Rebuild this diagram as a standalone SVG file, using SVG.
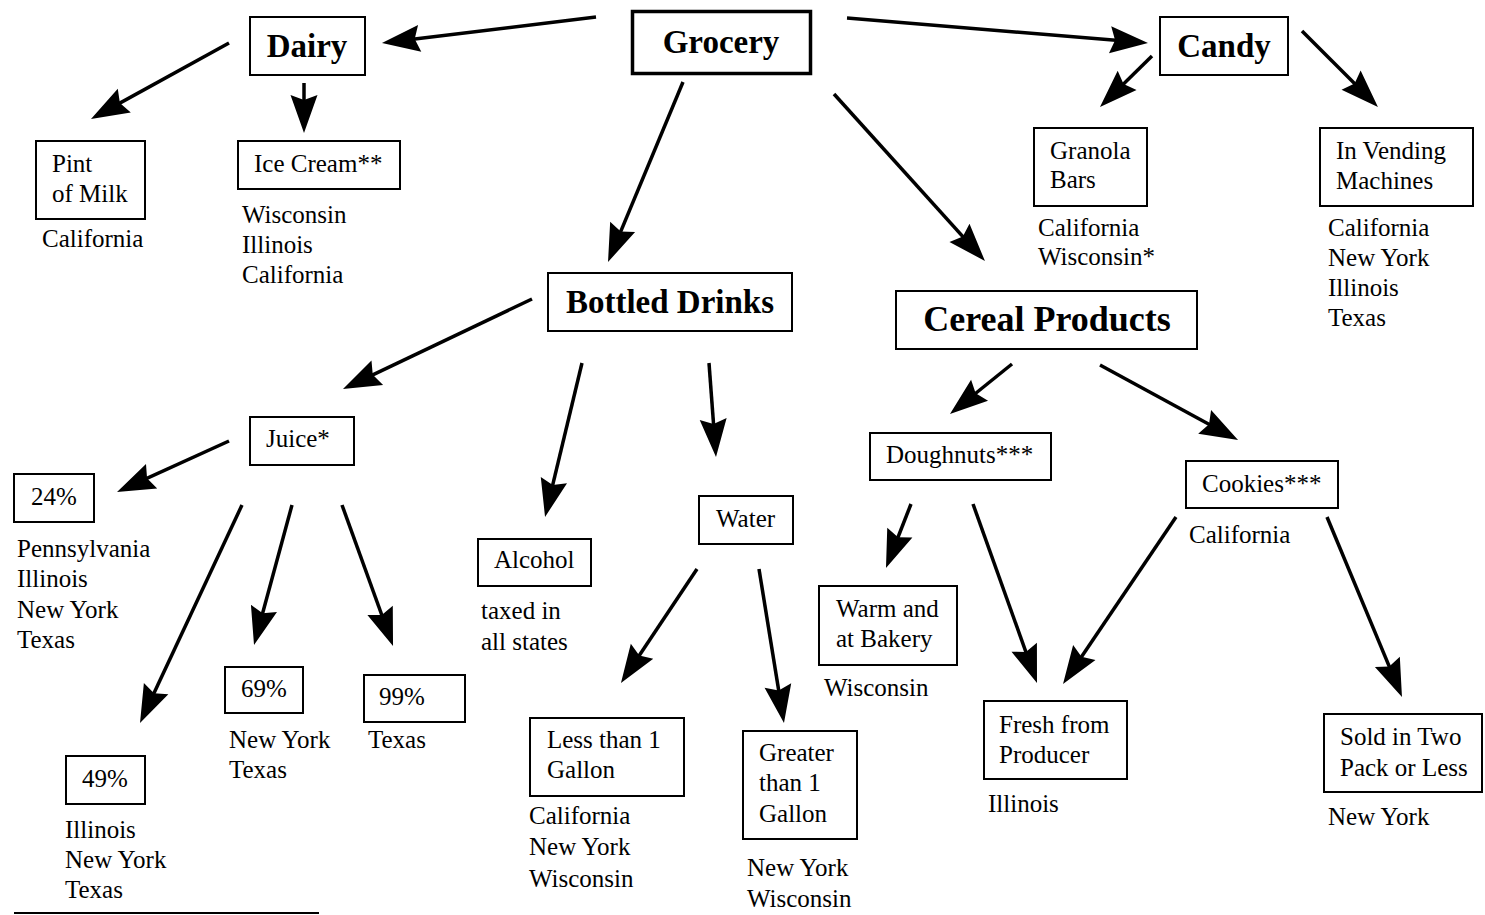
<svg xmlns="http://www.w3.org/2000/svg" width="1485" height="915" viewBox="0 0 1485 915">
<style>
  text { font-family: "Liberation Serif", "Times New Roman", serif; fill: #000; }
  .t { font-size: 25px; }
  .h { font-size: 33px; font-weight: bold; text-anchor: middle; }
  .b { fill: #fff; stroke: #000; stroke-width: 2; }
  .bb { fill: #fff; stroke: #000; stroke-width: 3.5; }
  .c line { stroke: #000; stroke-width: 3.5; marker-end: url(#ah); }
</style>
<defs>
  <marker id="ah" markerUnits="userSpaceOnUse" viewBox="-32 -15 42 30" markerWidth="42" markerHeight="30" refX="0" refY="0" orient="auto">
    <path d="M8,0 L-30,-13.5 L-25,0 L-30,13.5 Z" fill="#000"/>
  </marker>
</defs>
<rect width="1485" height="915" fill="#fff"/>

<g id="connectors" class="c">
  <line x1="596" y1="17" x2="389.9" y2="42"/>
  <line x1="847" y1="18" x2="1140" y2="42.3"/>
  <line x1="683" y1="82" x2="611.1" y2="254.6"/>
  <line x1="834" y1="94" x2="979.6" y2="255.1"/>
  <line x1="229" y1="43" x2="98" y2="115.1"/>
  <line x1="304" y1="83" x2="304" y2="125"/>
  <line x1="1152" y1="56" x2="1105.7" y2="101.4"/>
  <line x1="1302" y1="31" x2="1372.3" y2="101.3"/>
  <line x1="532" y1="299" x2="350.2" y2="385.6"/>
  <line x1="582" y1="363" x2="546.9" y2="509.2"/>
  <line x1="709" y1="363" x2="715.4" y2="449"/>
  <line x1="229" y1="441" x2="124.3" y2="488.7"/>
  <line x1="242" y1="505" x2="143.4" y2="715.8"/>
  <line x1="292" y1="505" x2="256.1" y2="637.3"/>
  <line x1="342" y1="505" x2="390.3" y2="638.5"/>
  <line x1="697" y1="569" x2="625.4" y2="676.3"/>
  <line x1="759" y1="569" x2="782.7" y2="715.1"/>
  <line x1="1012" y1="364" x2="956.2" y2="409"/>
  <line x1="1100" y1="365" x2="1231" y2="436.2"/>
  <line x1="911" y1="504" x2="888.9" y2="560.5"/>
  <line x1="973" y1="504" x2="1034.3" y2="675.5"/>
  <line x1="1176" y1="517" x2="1067.5" y2="677.4"/>
  <line x1="1327" y1="517" x2="1398.9" y2="689.6"/>
</g>

<g id="grocery"><rect class="bb" x="632.5" y="11.5" width="178" height="62"/><text class="h" x="721" y="53">Grocery</text></g>
<g id="dairy"><rect class="b" x="250" y="17" width="115" height="58"/><text class="h" x="307" y="57">Dairy</text></g>
<g id="candy"><rect class="b" x="1160" y="17" width="128" height="58"/><text class="h" x="1224" y="57">Candy</text></g>

<g id="pint"><rect class="b" x="36" y="141" width="109" height="78"/>
  <text class="t" x="52" y="172">Pint</text><text class="t" x="52" y="202">of Milk</text>
  <text class="t" x="42" y="247">California</text></g>
<g id="icecream"><rect class="b" x="238" y="141" width="162" height="48"/>
  <text class="t" x="254" y="172">Ice Cream**</text>
  <text class="t" x="242" y="223">Wisconsin</text><text class="t" x="242" y="253">Illinois</text><text class="t" x="242" y="283">California</text></g>

<g id="granola"><rect class="b" x="1034" y="128" width="113" height="78"/>
  <text class="t" x="1050" y="159">Granola</text><text class="t" x="1050" y="188">Bars</text>
  <text class="t" x="1038" y="236">California</text><text class="t" x="1038" y="265">Wisconsin*</text></g>
<g id="vending"><rect class="b" x="1320" y="128" width="153" height="78"/>
  <text class="t" x="1336" y="159">In Vending</text><text class="t" x="1336" y="189">Machines</text>
  <text class="t" x="1328" y="236">California</text><text class="t" x="1328" y="266">New York</text><text class="t" x="1328" y="296">Illinois</text><text class="t" x="1328" y="326">Texas</text></g>

<g id="bottled"><rect class="b" x="548" y="273" width="244" height="58"/><text class="h" x="670" y="313">Bottled Drinks</text></g>
<g id="cereal"><rect class="b" x="896" y="291" width="301" height="58"/><text class="h" x="1047" y="331" style="font-size:36px">Cereal Products</text></g>

<g id="juice"><rect class="b" x="250" y="417" width="104" height="48"/><text class="t" x="266" y="447">Juice*</text></g>
<g id="p24"><rect class="b" x="14" y="474" width="80" height="48"/><text class="t" x="31" y="505">24%</text>
  <text class="t" x="17" y="557">Pennsylvania</text><text class="t" x="17" y="587">Illinois</text><text class="t" x="17" y="618">New York</text><text class="t" x="17" y="648">Texas</text></g>
<g id="p49"><rect class="b" x="66" y="756" width="79" height="48"/><text class="t" x="82" y="787">49%</text>
  <text class="t" x="65" y="838">Illinois</text><text class="t" x="65" y="868">New York</text><text class="t" x="65" y="898">Texas</text></g>
<g id="p69"><rect class="b" x="225" y="667" width="78" height="46"/><text class="t" x="241" y="697">69%</text>
  <text class="t" x="229" y="748">New York</text><text class="t" x="229" y="778">Texas</text></g>
<g id="p99"><rect class="b" x="364" y="675" width="101" height="47"/><text class="t" x="379" y="705">99%</text>
  <text class="t" x="368" y="748">Texas</text></g>

<g id="alcohol"><rect class="b" x="478" y="539" width="113" height="47"/><text class="t" x="494" y="568">Alcohol</text>
  <text class="t" x="481" y="619">taxed in</text><text class="t" x="481" y="650">all states</text></g>
<g id="water"><rect class="b" x="699" y="496" width="94" height="48"/><text class="t" x="716" y="527">Water</text></g>
<g id="less"><rect class="b" x="530" y="718" width="154" height="78"/>
  <text class="t" x="547" y="748">Less than 1</text><text class="t" x="547" y="778">Gallon</text>
  <text class="t" x="529" y="824">California</text><text class="t" x="529" y="855">New York</text><text class="t" x="529" y="887">Wisconsin</text></g>
<g id="greater"><rect class="b" x="743" y="731" width="114" height="108"/>
  <text class="t" x="759" y="761">Greater</text><text class="t" x="759" y="791">than 1</text><text class="t" x="759" y="822">Gallon</text>
  <text class="t" x="747" y="876">New York</text><text class="t" x="747" y="907">Wisconsin</text></g>

<g id="doughnuts"><rect class="b" x="870" y="433" width="181" height="47"/><text class="t" x="886" y="463">Doughnuts***</text></g>
<g id="warm"><rect class="b" x="819" y="586" width="138" height="79"/>
  <text class="t" x="836" y="617">Warm and</text><text class="t" x="836" y="647">at Bakery</text>
  <text class="t" x="824" y="696">Wisconsin</text></g>
<g id="fresh"><rect class="b" x="984" y="701" width="143" height="78"/>
  <text class="t" x="999" y="733">Fresh from</text><text class="t" x="999" y="763">Producer</text>
  <text class="t" x="988" y="812">Illinois</text></g>
<g id="cookies"><rect class="b" x="1186" y="461" width="152" height="47"/><text class="t" x="1202" y="492">Cookies***</text>
  <text class="t" x="1189" y="543">California</text></g>
<g id="sold"><rect class="b" x="1324" y="714" width="158" height="78"/>
  <text class="t" x="1340" y="745">Sold in Two</text><text class="t" x="1340" y="776">Pack or Less</text>
  <text class="t" x="1328" y="825">New York</text></g>

<line x1="14" y1="913" x2="319" y2="913" stroke="#000" stroke-width="2"/>
</svg>
